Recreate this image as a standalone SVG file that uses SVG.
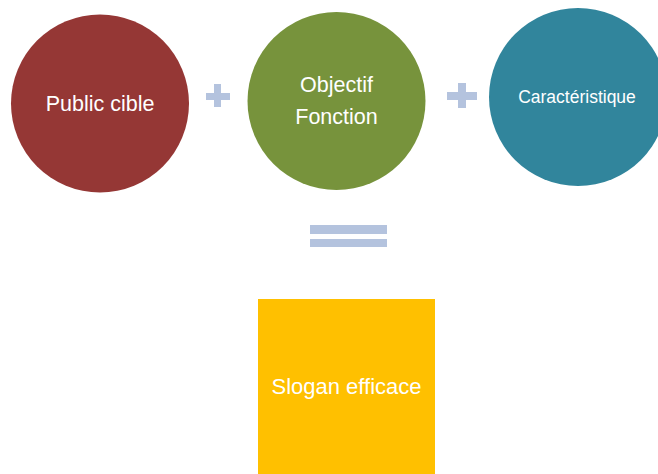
<svg xmlns="http://www.w3.org/2000/svg" width="658" height="474" viewBox="0 0 658 474">
<style>
.lbl{font-family:"Liberation Sans",Arial,sans-serif;fill:#ffffff;text-anchor:middle}
.op{fill:#b4c3de}
</style>
<rect width="658" height="474" fill="#ffffff"/>
<g id="public-cible">
<circle cx="100" cy="103.5" r="89" fill="#953735"/>
<text class="lbl" x="100" y="111" font-size="21.5">Public cible</text>
</g>
<g id="objectif-fonction">
<circle cx="336.5" cy="101" r="89" fill="#77933c"/>
<text class="lbl" x="336.5" y="92" font-size="21.5">Objectif</text>
<text class="lbl" x="336.5" y="123.5" font-size="21.5">Fonction</text>
</g>
<g id="caracteristique">
<circle cx="578" cy="97" r="89" fill="#31859c"/>
<text class="lbl" x="577" y="103" font-size="17.5">Caractéristique</text>
</g>
<g id="slogan-efficace">
<rect x="258" y="299" width="177" height="176" fill="#ffc000"/>
<text class="lbl" x="346.5" y="394" font-size="22">Slogan efficace</text>
</g>
<g id="connectors">
<path class="op" d="M214 84h7v9h9v7h-9v7h-7v-7h-8v-7h8z"/>
<path class="op" d="M458 83h8v9h11v8h-11v8h-8v-8h-11v-8h11z"/>
<rect class="op" x="310" y="225" width="77" height="9"/>
<rect class="op" x="310" y="239" width="77" height="8"/>
</g>
</svg>
